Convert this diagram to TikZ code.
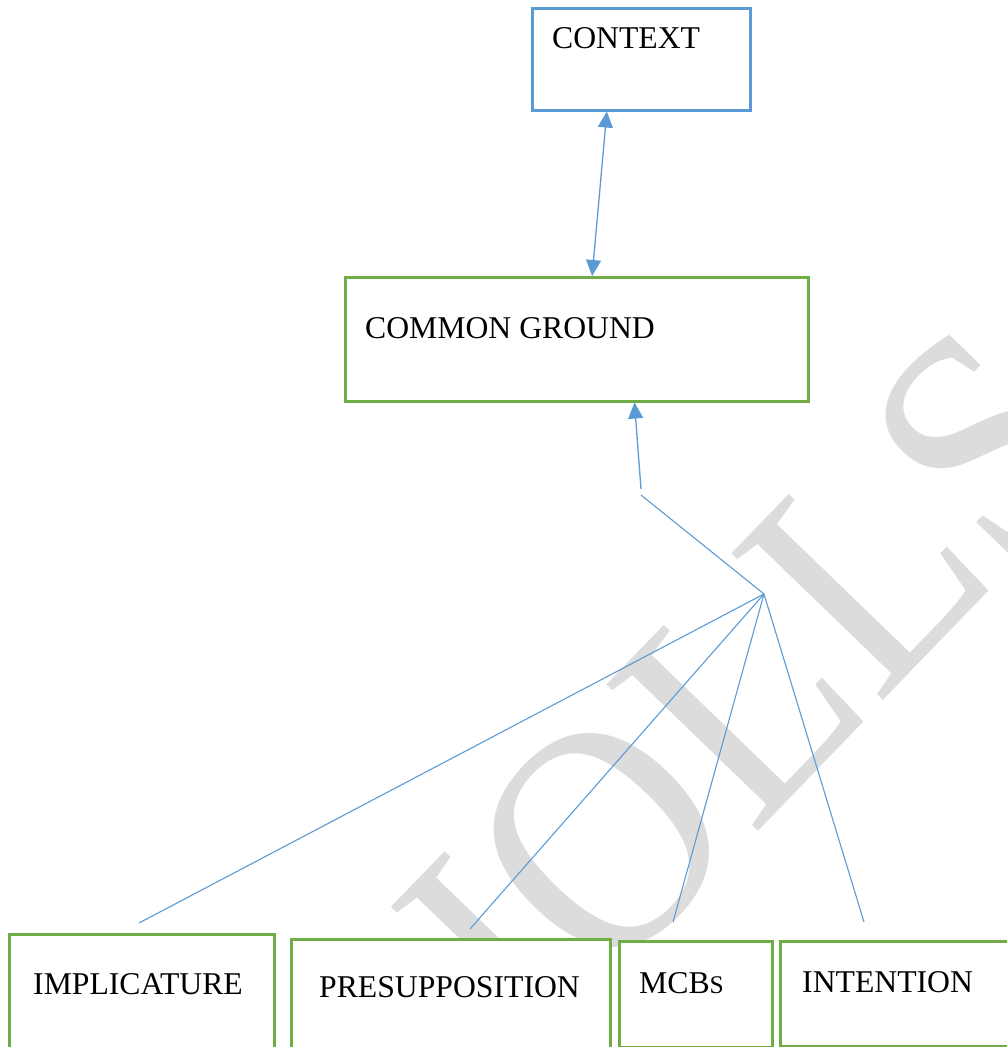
\documentclass[tikz,border=0pt]{standalone}
\usepackage{fontspec}
\setmainfont{Liberation Serif}
\usetikzlibrary{arrows.meta,calc}
\definecolor{boxgreen}{RGB}{112,173,71}
\definecolor{boxblue}{RGB}{91,155,213}
\definecolor{wmgray}{RGB}{220,220,220}
\tikzset{
  gbox/.style={draw=boxgreen, line width=2.5pt, fill=white, rectangle, inner sep=0pt, anchor=north west},
  bbox/.style={draw=boxblue, line width=2.5pt, fill=white, rectangle, inner sep=0pt, anchor=north west},
  lbl/.style={anchor=base west, inner sep=0pt, font=\fontsize{31.7}{38}\selectfont},
  conn/.style={draw=boxblue, line width=1.1pt},
  arr/.style={draw=boxblue, line width=1.3pt, -{Triangle[width=15pt,length=16pt]}},
  dblarr/.style={draw=boxblue, line width=1.3pt, {Triangle[width=15pt,length=16pt]}-{Triangle[width=15pt,length=16pt]}},
  wmark/.style={anchor=base west, rotate=46, xscale=0.92, inner sep=0pt, text=wmgray, font=\fontsize{322}{322}\selectfont}
}
\begin{document}
\begin{tikzpicture}[x=1pt,y=-1pt]
\useasboundingbox (0,0) rectangle (1007,1047);
\clip (0,0) rectangle (1007,1047);
% watermark
\node[wmark] (wm) at (535,1062) {IOLLS};
% boxes
\node[bbox, minimum width=218pt, minimum height=102pt] (ctx) at (531,7) {};
\node[gbox, minimum width=463pt, minimum height=124pt] (cg) at (344,276) {};
\node[gbox, minimum width=265pt, minimum height=130pt] (imp) at (8,933) {};
\node[gbox, minimum width=319pt, minimum height=125pt] (pre) at (290,938) {};
\node[gbox, minimum width=153pt, minimum height=106pt] (mcb) at (618,940) {};
\node[gbox, minimum width=245pt, minimum height=105pt] (int) at (779,940) {};
% labels
\node[lbl] (ctxt) at (552,48) {CONTEXT};
\node[lbl] (cgt) at (365,338) {COMMON GROUND};
\node[lbl] (impt) at (33,994) {IMPLICATURE};
\node[lbl] (pret) at (319,997) {PRESUPPOSITION};
\node[lbl] (mcbt) at (639,993) {MCB{\fontsize{25.4}{30}\selectfont S}};
\node[lbl] (intt) at (802,992) {INTENTION};
% connector points
\coordinate (jtop) at (641,489);
\coordinate (jbot) at (641,495);
\coordinate (hub) at (764,594);
\coordinate (eimp) at (139,923);
\coordinate (epre) at (470,929);
\coordinate (emcb) at (673,922);
\coordinate (eint) at (864,922);
% connectors
\draw[dblarr] ($(cg.north west)!0.533!(cg.north east)$) -- ($(ctx.south west)!0.344!(ctx.south east)$);
\draw[arr] (jtop) -- ($(cg.south west)!0.624!(cg.south east)$);
\draw[conn] (jbot) -- (hub);
\draw[conn] (hub) -- (eimp);
\draw[conn] (hub) -- (epre);
\draw[conn] (hub) -- (emcb);
\draw[conn] (hub) -- (eint);
\end{tikzpicture}
\end{document}
